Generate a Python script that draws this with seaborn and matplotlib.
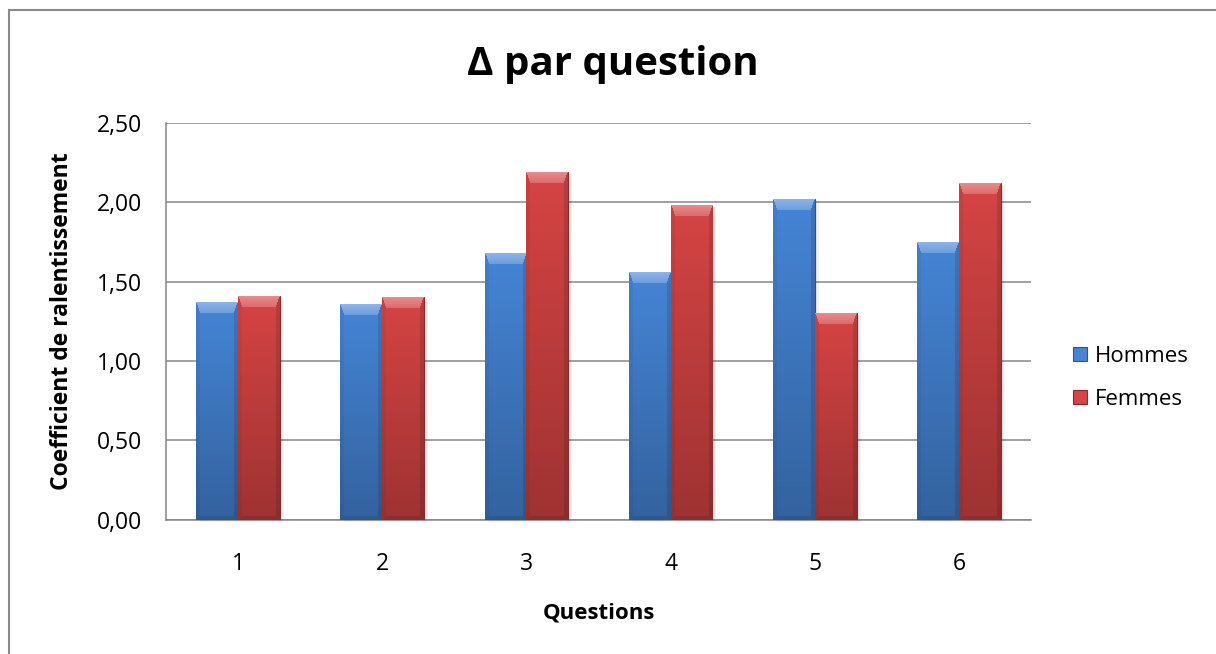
import numpy as np
import pandas as pd
import matplotlib
matplotlib.use("Agg")
import matplotlib.pyplot as plt
import matplotlib.transforms as mtransforms
from matplotlib.patches import Rectangle, Patch
from matplotlib.lines import Line2D
from matplotlib.ticker import FuncFormatter
import seaborn as sns

# Slowdown coefficient per question, by sex
questions = ["1", "2", "3", "4", "5", "6"]
hommes = [1.37, 1.36, 1.68, 1.56, 2.02, 1.75]
femmes = [1.41, 1.40, 2.19, 1.98, 1.30, 2.12]
series_names = ["Hommes", "Femmes"]
y_ticks = [0.0, 0.5, 1.0, 1.5, 2.0, 2.5]

title = "Δ par question"
x_title = "Questions"
y_title = "Coefficient de ralentissement"

BLUE = "#4585d6"
RED = "#d64444"
GRID = "#868686"

sns.set_style("white")
plt.rcParams["font.family"] = ["Open Sans", "DejaVu Sans"]
plt.rcParams["text.color"] = "black"
plt.rcParams["axes.labelcolor"] = "black"

df = pd.DataFrame({
    "Question": questions * 2,
    "Coef": hommes + femmes,
    "Sexe": [series_names[0]] * len(questions) + [series_names[1]] * len(questions),
})

fig = plt.figure(figsize=(12.16, 6.54), dpi=100)
ax = fig.add_axes([166 / 1216, 134.3 / 654, 865 / 1216, 397 / 654])

sns.barplot(data=df, x="Question", y="Coef", hue="Sexe", order=questions,
            hue_order=series_names, palette=[BLUE, RED], width=0.58,
            saturation=1, errorbar=None, legend=False, ax=ax, zorder=3)

ax.set_xlim(-0.5, len(questions) - 0.5)
ax.set_ylim(y_ticks[0], y_ticks[-1])
ax.set_yticks(y_ticks)
ax.yaxis.set_major_formatter(FuncFormatter(lambda v, _: f"{v:.2f}".replace(".", ",")))
ax.yaxis.grid(True, color=GRID, lw=1.1)
ax.set_axisbelow(True)

for side in ("top", "right"):
    ax.spines[side].set_visible(False)
for side in ("left", "bottom"):
    ax.spines[side].set_color(GRID)
    ax.spines[side].set_linewidth(1.1)

ax.tick_params(axis="y", length=6, width=1.1, color=GRID, pad=11, labelsize=16.5, labelcolor="black")
ax.set_xticks(range(len(questions)))
ax.set_xticklabels(questions)
ax.tick_params(axis="x", which="major", length=0, pad=23, labelsize=16.5, labelcolor="black")
ax.set_xticks(np.arange(-0.5, len(questions), 1), minor=True)
ax.tick_params(axis="x", which="minor", length=6, width=1.1, color=GRID)

ax.set_xlabel(x_title, fontsize=16, fontweight="bold")
ax.set_ylabel(y_title, fontsize=16.5, fontweight="bold")
ax.xaxis.set_label_coords(0.5, -0.208)
ax.yaxis.set_label_coords(-0.1065, 0.5)


def shade_bar(patch, base):
    """Paint a bevelled, vertically shaded face inside a bar patch."""
    fig.canvas.draw()
    x0, y0 = patch.get_x(), patch.get_y()
    w, h = patch.get_width(), patch.get_height()
    (px0, py0), (px1, py1) = ax.transData.transform([(x0, y0), (x0 + w, y0 + h)])
    W = max(int(round(px1 - px0)), 2)
    H = max(int(round(py1 - py0)), 2)
    rgb = np.array(matplotlib.colors.to_rgb(base))
    ii, jj = np.mgrid[0:H, 0:W].astype(float)
    # bevel widths in pixels: wide top cap, thin sides and base
    bt, bs, bb = 11.0, 4.0, 4.0
    n_top = ii / bt
    n_left = jj / bs
    n_right = (W - 1 - jj) / bs
    n_bot = (H - 1 - ii) / bb
    nmin = np.minimum.reduce([n_top, n_left, n_right, n_bot])
    # face: lighter near the top, darker toward the base
    t = ii / max(H - 1, 1)
    face = 1.0 - 0.26 * t
    img = rgb[None, None, :] * face[..., None]
    edge = nmin < 1
    top = edge & (n_top == nmin)
    left = edge & (n_left == nmin) & ~top
    right = edge & (n_right == nmin) & ~top & ~left
    bot = edge & (n_bot == nmin) & ~top & ~left & ~right
    # top cap: bright, fading slightly toward the face
    cap = 0.38 - 0.18 * (ii / bt)
    cap_rgb = rgb[None, None, :] + (1 - rgb[None, None, :]) * cap[..., None]
    img[top] = cap_rgb[top]
    img[left] = img[left] * 0.95
    img[right] = img[right] * 0.88
    img[bot] = img[bot] * 0.9
    img = np.clip(img, 0, 1)
    im = ax.imshow(img, extent=(x0, x0 + w, y0, y0 + h), origin="upper",
                   aspect="auto", interpolation="bilinear", zorder=4)
    im.set_clip_path(patch)
    # soft drop shadow to the lower right
    for off, a in ((4, 0.05), (2.5, 0.07)):
        shadow_tr = mtransforms.offset_copy(ax.transData, fig=fig, x=off, y=-off * 0.6, units="dots")
        ax.add_patch(Rectangle((x0, y0), w, h, transform=shadow_tr, facecolor="#000000",
                               alpha=a, edgecolor="none", zorder=2, clip_on=False))


bars = list(ax.patches)
n = len(questions)
for k, patch in enumerate(bars):
    base = BLUE if k < n else RED
    patch.set_edgecolor(np.array(matplotlib.colors.to_rgb(base)) * 0.6)
    patch.set_linewidth(0.7)
    shade_bar(patch, base)

ax.set_xlim(-0.5, len(questions) - 0.5)
ax.set_ylim(y_ticks[0], y_ticks[-1])

fig.text(613 / 1216, 1 - 64 / 654, title, ha="center", va="center",
         fontsize=29, fontweight="bold")

handles = [Patch(facecolor=BLUE, edgecolor="#2a5590", lw=0.8),
           Patch(facecolor=RED, edgecolor="#8c2a2a", lw=0.8)]
fig.legend(handles, series_names, loc="center left",
           bbox_to_anchor=(1053 / 1216, 1 - 378 / 654), frameon=False, fontsize=16,
           handlelength=0.62, handleheight=0.62, labelspacing=1.0, handletextpad=0.35)

# chart frame: left and top edges of the chart area
frame_kw = dict(transform=fig.transFigure, color="#8a8a8a", lw=1.5)
fig.add_artist(Line2D([8.5 / 1216, 8.5 / 1216], [0, 1 - 10 / 654], **frame_kw))
fig.add_artist(Line2D([8.5 / 1216, 1], [1 - 10 / 654, 1 - 10 / 654], **frame_kw))

fig.savefig("out.png", dpi=100)
